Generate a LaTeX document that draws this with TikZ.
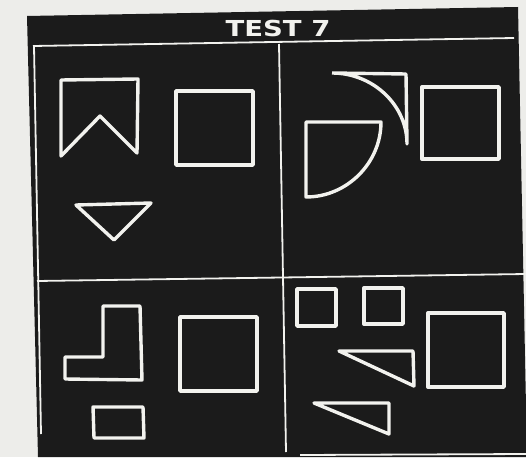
\documentclass[tikz,border=0pt]{standalone}
\usepackage{fontspec}
\newfontfamily\titlefont{DejaVu Sans}
\definecolor{TPaper}{HTML}{EDEDEA}
\definecolor{TBoard}{HTML}{1B1B1B}
\definecolor{TChalk}{HTML}{F2F2EE}
\tikzset{
  board/.style={fill=TBoard,draw=none},
  rule/.style={draw=TChalk,line width=1.8pt},
  figure/.style={draw=TChalk,line width=3.4pt,line join=round},
  heading/.style={text=TChalk,inner sep=0pt,xscale=1.25,transform shape,
                  font=\titlefont\bfseries\fontsize{22}{24}\selectfont},
}

\begin{document}
\begin{tikzpicture}[x=1pt,y=-1pt]
    \useasboundingbox[fill=TPaper] (0,0) rectangle (526,457);
    \fill[board] (27,16) -- (518,7) -- (527,457) -- (38,457) -- cycle;
    \node[heading] (title) at (278,28) {TEST 7};

    % frame and quadrants
    \draw[rule] (33,46) -- (514,38);
    \draw[rule] (34,46) -- (41,434);
    \draw[rule] (279,44) -- (286,452);
    \draw[rule] (37,281) -- (526,274);
    \draw[rule] (300,455) -- (526,454);

    % top left
    \draw[figure] (61,80) -- (138,79) -- (137,153) -- (100,116) -- (61,156) -- cycle;
    \draw[figure] (176,91) rectangle (253,165);
    \draw[figure] (76,205) -- (151,203) -- (114,240) -- cycle;

    % top right
    \draw[figure] (332,73) -- (406,74) -- (407,144)
      .. controls (407,105) and (373,73) .. (332,73);
    \draw[figure] (306,122) -- (381,122)
      .. controls (381,163) and (347,197) .. (306,197) -- cycle;
    \draw[figure] (422,87) rectangle (499,159);

    % bottom left
    \draw[figure] (103,306) -- (140,306) -- (142,380) -- (65,379) -- (65,357)
      -- (103,357) -- cycle;
    \draw[figure] (180,317) rectangle (257,391);
    \draw[figure] (93,407) -- (143,407) -- (144,438) -- (94,438) -- cycle;

    % bottom right
    \draw[figure] (297,289) rectangle (336,326);
    \draw[figure] (364,288) rectangle (403,324);
    \draw[figure] (428,313) rectangle (504,387);
    \draw[figure] (339,351) -- (413,351) -- (414,386) -- cycle;
    \draw[figure] (314,403) -- (389,403) -- (389,434) -- cycle;
  \end{tikzpicture}
\end{document}
